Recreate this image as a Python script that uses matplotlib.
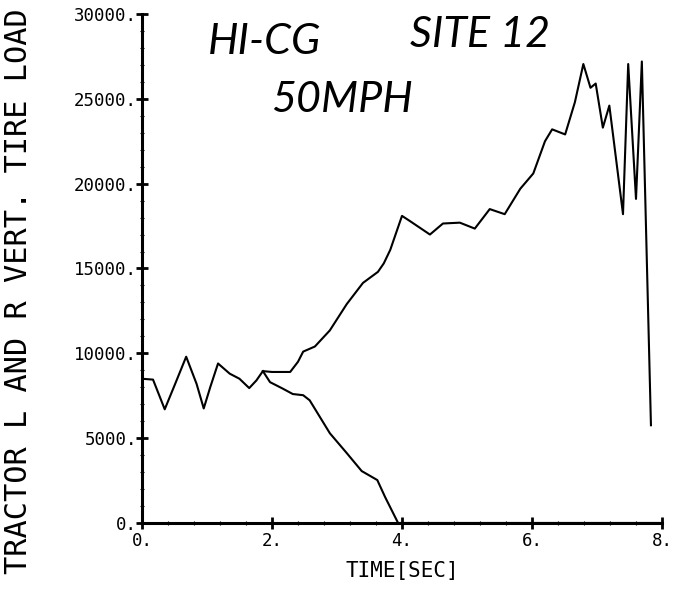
import matplotlib.pyplot as plt
from matplotlib.ticker import FixedLocator, FuncFormatter, MultipleLocator

# tire load (lb)
time_upper = [0.0, 0.17, 0.35, 0.5, 0.68, 0.84, 0.95, 1.05, 1.17, 1.35, 1.5,
              1.65, 1.76, 1.86, 2.0, 2.28, 2.4, 2.48, 2.66, 2.89, 3.15, 3.4,
              3.63, 3.72, 3.82, 4.0, 4.12, 4.43, 4.63, 4.89, 5.12, 5.35, 5.58,
              5.82, 6.02, 6.2, 6.31, 6.51, 6.66, 6.79, 6.9, 6.98, 7.09, 7.19,
              7.4, 7.48, 7.6, 7.69, 7.83]
load_upper = [8500, 8450, 6700, 8100, 9800, 8200, 6750, 8000, 9400, 8800, 8500,
              7950, 8400, 8950, 8900, 8900, 9500, 10100, 10400, 11350, 12900, 14150,
              14800, 15300, 16100, 18100, 17800, 17000, 17650, 17700, 17350, 18500, 18200,
              19700, 20600, 22500, 23200, 22900, 24800, 27050, 25650, 25900, 23300, 24600,
              18200, 27050, 19100, 27200, 5760]

time_lower = [1.86, 1.97, 2.15, 2.32, 2.48, 2.58, 2.89, 3.15, 3.38, 3.62, 3.74,
              3.94, 4.5, 6.0, 8.0]
load_lower = [8950, 8300, 7950, 7600, 7530, 7230, 5290, 4120, 3060, 2530, 1530,
              0, 0, 0, 0]

fig = plt.figure(figsize=(6.78, 5.92), dpi=100)
ax = fig.add_axes([0.2094, 0.1166, 0.767, 0.8598])

ax.plot(time_upper, load_upper, color='black', lw=1.5)
ax.plot(time_lower, load_lower, color='black', lw=1.5)

ax.set_xlim(0, 8)
ax.set_ylim(0, 30000)
for side in ['top', 'right']:
    ax.spines[side].set_visible(False)
for side in ['left', 'bottom']:
    ax.spines[side].set_linewidth(2.2)

mono = 'DejaVu Sans Mono'
ax.xaxis.set_major_locator(FixedLocator([0, 2, 4, 6, 8]))
ax.yaxis.set_major_locator(MultipleLocator(5000))
ax.xaxis.set_minor_locator(MultipleLocator(0.4))
ax.yaxis.set_minor_locator(MultipleLocator(1000))
ax.xaxis.set_major_formatter(FuncFormatter(lambda v, p: f'{v:.0f}.'))
ax.yaxis.set_major_formatter(FuncFormatter(lambda v, p: f'{v:.0f}.'))
ax.tick_params(which='major', direction='inout', length=9, width=2,
               labelsize=12.5)
ax.tick_params(axis='y', which='major', pad=-1)
ax.tick_params(axis='x', which='major', pad=2)
ax.tick_params(which='minor', direction='inout', length=3, width=0.8)
for lab in ax.get_xticklabels() + ax.get_yticklabels():
    lab.set_family(mono)

ax.set_xlabel('TIME[SEC]', family=mono, fontsize=15, labelpad=8)
ax.set_ylabel('TRACTOR L AND R VERT. TIRE LOAD', family=mono, fontsize=21.8)
ax.yaxis.set_label_coords(-0.21, 0.455)

# handwritten notes on the sheet
hand = dict(fontsize=31, style='italic', family='Lato',
            fontweight='normal', ha='center', va='center')
fig.text(265 / 678, 1 - 42 / 592, 'HI-CG', **hand)
fig.text(480 / 678, 1 - 35 / 592, 'SITE 12', **hand)
fig.text(342 / 678, 1 - 100 / 592, '50MPH', **hand)

fig.savefig('out.png', dpi=100, facecolor='white')
